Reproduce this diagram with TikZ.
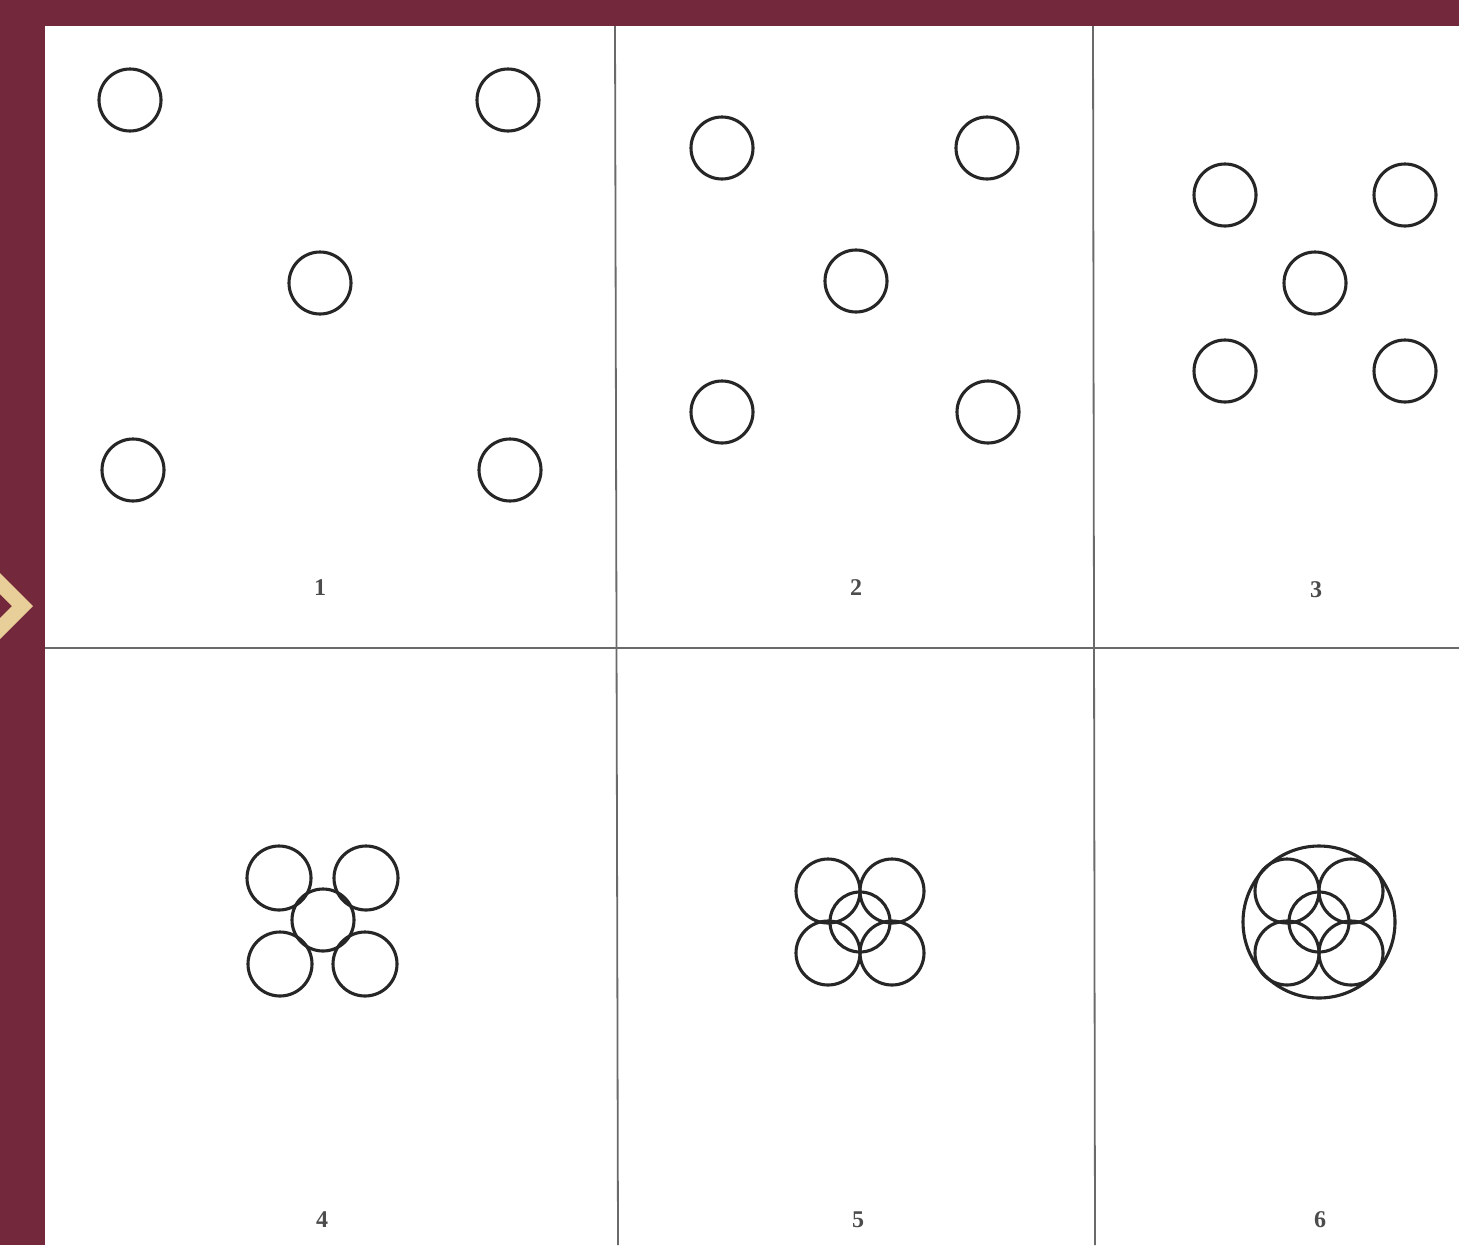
\documentclass[tikz,border=0pt]{standalone}
\usepackage{fontspec}
\setmainfont{Liberation Serif}
\definecolor{maroon}{HTML}{74283B}
\definecolor{gold}{HTML}{E8CF9A}
\definecolor{gridgray}{HTML}{6A6A6A}
\begin{document}
\begin{tikzpicture}[x=1pt,y=-1pt,
  ring/.style={circle,draw=black!85,line width=3.1pt,inner sep=0pt,minimum size=#1},
  ring/.default=62pt,
  gridline/.style={draw=gridgray,line width=1.8pt},
  lbl/.style={font=\fontsize{24}{28}\selectfont\bfseries,text=black!70,inner sep=0pt}]
\useasboundingbox (0,0) rectangle (1459,1245);
\fill[maroon] (0,0) rectangle (1459,1245);
\fill[white] (45,26) rectangle (1459,1245);
\fill[gold] (0,573) -- (33,606) -- (0,639) -- (0,618) -- (12,606) -- (0,594) -- cycle;
% grid
\draw[gridline] (45,648) -- (1459,648);
\draw[gridline] (615,26) -- (618,1245);
\draw[gridline] (1093,26) -- (1095,1245);
% panel 1
\node[ring] (a1) at (130,100) {};
\node[ring] (a2) at (508,100) {};
\node[ring] (a3) at (320,283) {};
\node[ring] (a4) at (133,470) {};
\node[ring] (a5) at (510,470) {};
\node[lbl] (l1) at (320,588) {1};
% panel 2
\node[ring] (b1) at (722,148) {};
\node[ring] (b2) at (987,148) {};
\node[ring] (b3) at (856,281) {};
\node[ring] (b4) at (722,412) {};
\node[ring] (b5) at (988,412) {};
\node[lbl] (l2) at (856,588) {2};
% panel 3
\node[ring] (c1) at (1225,195) {};
\node[ring] (c2) at (1405,195) {};
\node[ring] (c3) at (1315,283) {};
\node[ring] (c4) at (1225,371) {};
\node[ring] (c5) at (1405,371) {};
\node[lbl] (l3) at (1316,590) {3};
% panel 4
\node[ring=62pt] (d3) at (323,920) {};
\node[ring=64pt] (d1) at (279,878) {};
\node[ring=64pt] (d2) at (366,878) {};
\node[ring=64pt] (d4) at (280,964) {};
\node[ring=64pt] (d5) at (365,964) {};
\node[lbl] (l4) at (322,1220) {4};
% panel 5
\node[ring=64pt] (e1) at (828,891) {};
\node[ring=64pt] (e2) at (892,891) {};
\node[ring=60pt] (e3) at (860,922) {};
\node[ring=64pt] (e4) at (828,953) {};
\node[ring=64pt] (e5) at (892,953) {};
\node[lbl] (l5) at (858,1220) {5};
% panel 6
\node[ring=152pt] (f0) at (1319,922) {};
\node[ring=64pt] (f1) at (1287,891) {};
\node[ring=64pt] (f2) at (1351,891) {};
\node[ring=60pt] (f3) at (1319,922) {};
\node[ring=64pt] (f4) at (1287,953) {};
\node[ring=64pt] (f5) at (1351,953) {};
\node[lbl] (l6) at (1320,1220) {6};
\end{tikzpicture}
\end{document}
